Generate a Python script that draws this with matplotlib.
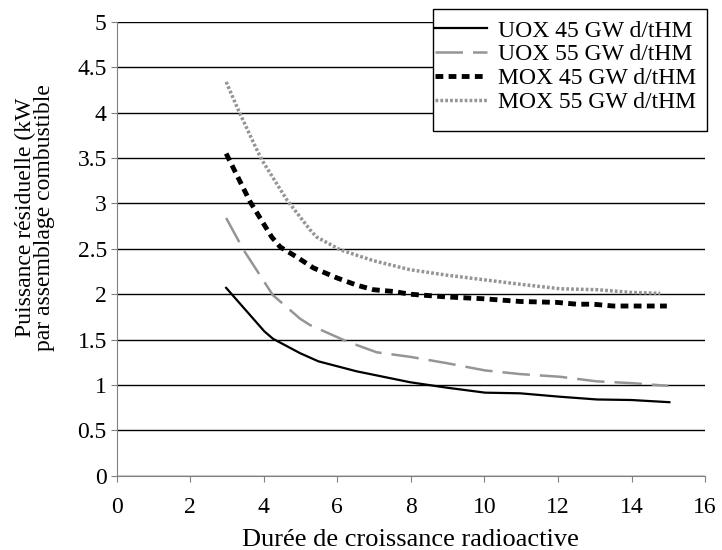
import matplotlib
matplotlib.use("Agg")
from matplotlib import pyplot as plt
from matplotlib.patches import Rectangle

plt.rcParams['font.family'] = ['Liberation Serif', 'DejaVu Serif']

uox45_x = (2.98, 4.02, 4.25, 4.99, 5.49, 6.53, 7.98, 8.98, 10.02, 10.97, 12.06, 13.06, 14.0, 15.03)
uox45_y = (2.07, 1.59, 1.51, 1.35, 1.26, 1.15, 1.03, 0.97, 0.915, 0.908, 0.87, 0.84, 0.834, 0.81)

uox55_x = (2.98, 3.45, 4.25, 4.99, 5.26, 6.26, 7.07, 7.98, 8.98, 10.02, 10.97, 12.06, 13.05, 14.0, 15.0)
uox55_y = (2.84, 2.49, 1.99, 1.73, 1.66, 1.48, 1.36, 1.31, 1.24, 1.16, 1.12, 1.09, 1.04, 1.02, 0.99)

mox45_x = (2.98, 3.63, 4.22, 4.45, 4.9, 5.35, 5.99, 6.53, 6.98, 7.53, 7.98, 8.98, 9.97, 10.97, 11.97, 12.51, 12.96, 13.5, 14.0, 14.96)
mox45_y = (3.55, 3.02, 2.63, 2.52, 2.41, 2.29, 2.18, 2.10, 2.05, 2.03, 2.0, 1.97, 1.95, 1.92, 1.91, 1.89, 1.89, 1.87, 1.87, 1.87)

mox55_x = (2.98, 3.31, 3.77, 3.95, 4.63, 5.26, 5.44, 6.08, 6.98, 7.98, 8.98, 9.97, 10.97, 12.06, 13.05, 14.0, 14.78)
mox55_y = (4.34, 4.03, 3.63, 3.48, 3.04, 2.71, 2.63, 2.49, 2.37, 2.27, 2.21, 2.16, 2.11, 2.06, 2.05, 2.02, 2.01)

labels = ("UOX 45 GW d/tHM", "UOX 55 GW d/tHM", "MOX 45 GW d/tHM", "MOX 55 GW d/tHM")
gray = '#959595'

f1 = plt.figure(figsize=(7.22, 5.5), dpi=100)
ax = f1.add_axes([0.1614, 0.1351, 0.8152, 0.8249])

ax.plot(uox45_x, uox45_y, color='black', lw=1.6, label=labels[0])
ax.plot(uox55_x, uox55_y, color=gray, lw=1.8, dashes=(11, 4), label=labels[1])
ax.plot(mox45_x, mox45_y, color='black', lw=3.5, dashes=(1.6, 1.1), label=labels[2])
ax.plot(mox55_x, mox55_y, color=gray, lw=2.5, dashes=(0.8, 0.6), label=labels[3])

ax.set_xlim(0, 16)
ax.set_ylim(0, 5)
ax.set_xticks(range(0, 17, 2))
ax.set_yticks([0, 0.5, 1, 1.5, 2, 2.5, 3, 3.5, 4, 4.5, 5])
ax.set_yticklabels(['0', '0.5', '1', '1.5', '2', '2.5', '3', '3.5', '4', '4.5', '5'])
ax.yaxis.grid(True, color='black', lw=1)
ax.set_axisbelow(True)
for s in ('top', 'right'):
    ax.spines[s].set_visible(False)
ax.spines['left'].set_color('#808080')
ax.spines['bottom'].set_color('#808080')
ax.tick_params(direction='out', length=4, color='#808080', labelsize=17)
ax.tick_params(axis='x', pad=11)
ax.tick_params(axis='y', pad=3)

ax.set_xlabel('Durée de croissance radioactive', fontsize=19, labelpad=8)
ax.set_ylabel('Puissance résiduelle (kW\npar assemblage combustible', fontsize=17,
              linespacing=0.9)
ax.yaxis.set_label_coords(-0.104, 0.57)

# legend box drawn separately (box is larger than its content)
box = Rectangle((433 / 722, 1 - 131 / 550), 274 / 722, 122 / 550,
                transform=f1.transFigure, facecolor='white',
                edgecolor='black', lw=1, zorder=3, clip_on=False)
ax.add_patch(box)
leg = ax.legend(loc='upper left', bbox_to_anchor=(435 / 722, 1 - 20 / 550),
                bbox_transform=f1.transFigure, fontsize=17, frameon=False,
                handlelength=2.2, handletextpad=0.45, labelspacing=0.1,
                borderpad=0, borderaxespad=0)
leg.set_zorder(4)

f1.savefig('out.png', dpi=100)
